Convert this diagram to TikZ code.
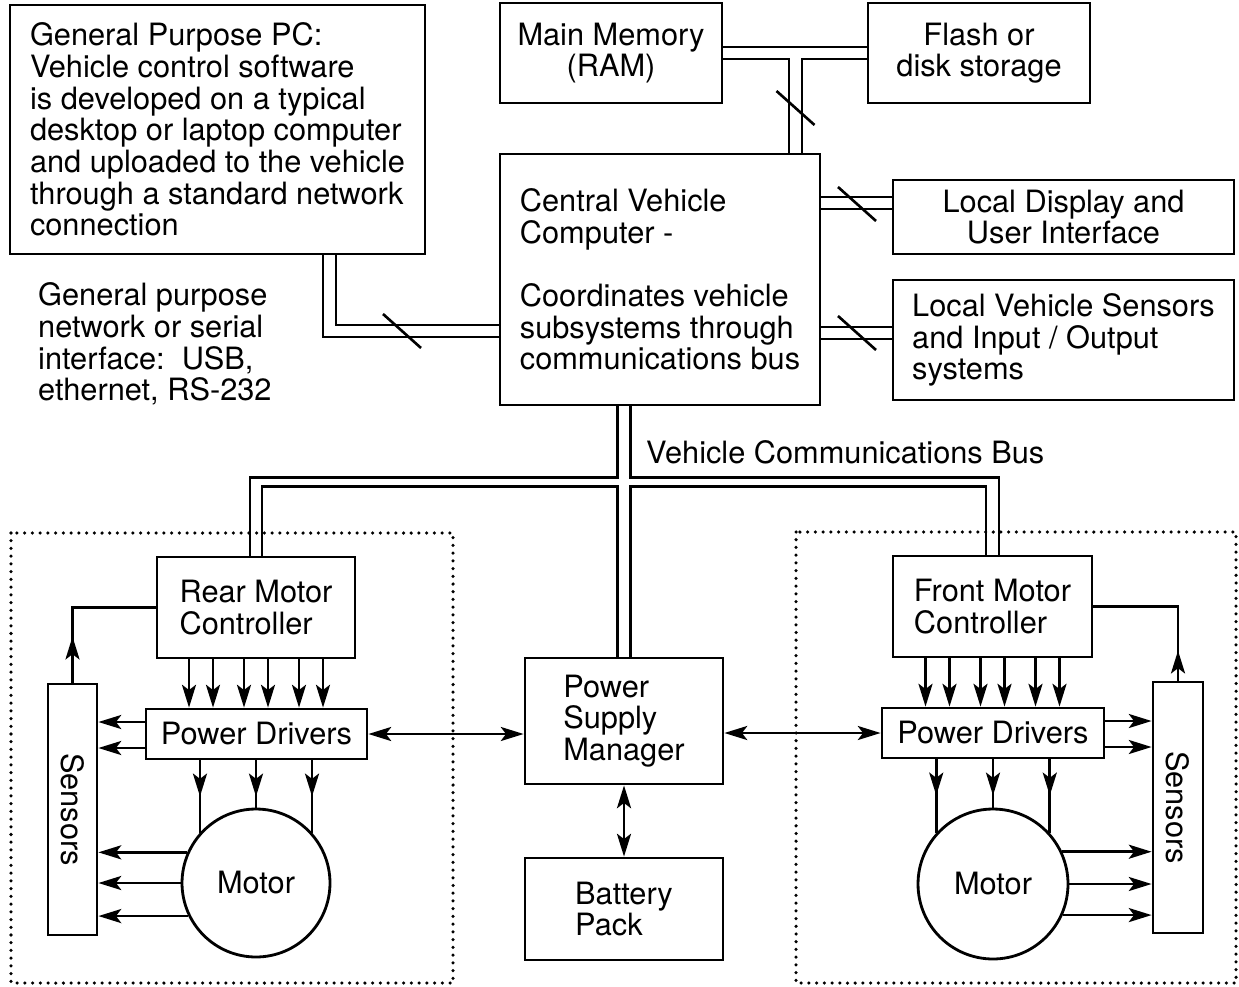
\documentclass[tikz,border=0pt]{standalone}
\usepackage{fontspec}
\usepackage{graphicx}
\setmainfont{TeX Gyre Heros}
\usepackage{tikz}
\usetikzlibrary{calc,positioning,arrows.meta}
\newcommand\diagfont{\fontsize{17.5pt}{18pt}\selectfont}
\newcommand\busslash[1]{\draw[wire] #1 ++(-19,-17) -- ++(38,34);}

\begin{document}
\begin{tikzpicture}[x=0.02cm,y=-0.02cm,
  box/.style={draw,line width=1.6pt,align=left,inner sep=0pt,font=\diagfont},
  wire/.style={line width=1.5pt},
  sig/.style={wire,-{Stealth[length=13pt,width=8pt,inset=3pt]}},
  dbl/.style={wire,{Stealth[length=13pt,width=8pt,inset=3pt]}-{Stealth[length=13pt,width=8pt,inset=3pt]}},
  zone/.style={line width=2pt,line cap=round,dash pattern=on 0pt off 4.4pt}]
\useasboundingbox (0,0) rectangle (1239,986);

\node[box,minimum width=8.3cm,minimum height=4.98cm] (pc) at (217.5,129.5) {General Purpose PC:\\Vehicle control software\\is developed on a typical\\desktop or laptop computer\\and uploaded to the vehicle\\through a standard network\\connection};
\node[box,minimum width=4.44cm,minimum height=2cm,align=center] (mem) at (611,53) {Main Memory\\(RAM)};
\node[box,minimum width=4.44cm,minimum height=2cm,align=center] (flash) at (979,53) {Flash or\\disk storage};
\node[box,minimum width=6.4cm,minimum height=5.02cm] (cvc) at (660,279.5) {Central Vehicle\\Computer -\\[18pt]Coordinates vehicle\\subsystems through\\communications bus};
\node[box,minimum width=6.82cm,minimum height=1.48cm,align=center] (disp) at (1063.5,217) {Local Display and\\User Interface};
\node[box,minimum width=6.82cm,minimum height=2.4cm] (lvs) at (1063.5,340) {Local Vehicle Sensors\\and Input / Output\\systems};
\node[anchor=west,align=left,font=\diagfont] (ifnote) at (32,344) {General purpose\\network or serial\\interface:\ \ USB,\\ethernet, RS-232};
\node[anchor=west,font=\diagfont] (buslbl) at (640,452) {Vehicle Communications Bus};

\draw[zone] (11,533) rectangle (453,983);
\draw[zone] (796,532) rectangle (1236,983);

\node[box,minimum width=3.96cm,minimum height=2.02cm] (rmc) at (256,607.5) {Rear Motor\\Controller};
\node[box,minimum width=3.98cm,minimum height=2.02cm] (fmc) at (992.5,606.5) {Front Motor\\Controller};
\node[box,minimum width=4.42cm,minimum height=1cm] (lpd) at (256.5,734) {Power Drivers};
\node[box,minimum width=4.44cm,minimum height=1cm] (fpd) at (993,733) {Power Drivers};
\node[box,minimum width=0.98cm,minimum height=5.02cm] (lsn) at (72.5,809.5) {\rotatebox{-90}{Sensors}};
\node[box,minimum width=1cm,minimum height=5.02cm] (rsn) at (1178,807.5) {\rotatebox{-90}{Sensors}};
\node[draw,circle,line width=1.6pt,minimum size=2.96cm,inner sep=0pt,font=\diagfont] (lmot) at (256,883) {Motor};
\node[draw,circle,line width=1.6pt,minimum size=3cm,inner sep=0pt,font=\diagfont] (rmot) at (993,884) {Motor};
\node[box,minimum width=3.96cm,minimum height=2.52cm] (psm) at (624,721) {Power\\Supply\\Manager};
\node[box,minimum width=3.96cm,minimum height=2.04cm] (bat) at (624,909) {Battery\\Pack};

\draw[wire] ($(mem.east)+(0,-6)$) -- ($(flash.west)+(0,-6)$);
\draw[wire] ($(mem.east)+(0,6)$) -| ($(cvc.north)+(129,0)$);
\draw[wire] ($(flash.west)+(0,6)$) -| ($(cvc.north)+(142,0)$);
\busslash{(795.5,108)}

\draw[wire] ($(pc.south)+(118.5,0)$) |- ($(cvc.west)+(0,45.5)$);
\draw[wire] ($(pc.south)+(105.5,0)$) |- ($(cvc.west)+(0,57.5)$);
\busslash{(402,331)}

\path ($(disp.west)+(0,-20)$) coordinate (d1) ($(disp.west)+(0,-8)$) coordinate (d2);
\path ($(lvs.west)+(0,-13)$) coordinate (s1) ($(lvs.west)+(0,-1)$) coordinate (s2);
\draw[wire] (d1) -- (d1 -| cvc.east);
\draw[wire] (d2) -- (d2 -| cvc.east);
\draw[wire] (s1) -- (s1 -| cvc.east);
\draw[wire] (s2) -- (s2 -| cvc.east);
\busslash{(857,204)}
\busslash{(857,333)}

\coordinate (busL) at ($(psm.north)+(-6.5,0)$);
\coordinate (busR) at ($(psm.north)+(6.5,0)$);
\draw[wire] (busL |- cvc.south) -- ++(0,71) -| ($(rmc.north)+(-6,0)$);
\draw[wire] ($(rmc.north)+(6,0)$) |- ($(busL)+(0,-170)$) -- (busL);
\draw[wire] (busR |- cvc.south) -- ++(0,71) -| ($(fmc.north)+(6.5,0)$);
\draw[wire] ($(fmc.north)+(-6.5,0)$) |- ($(busR)+(0,-170)$) -- (busR);

\foreach \dx in {-67,-43,-12,12,43,67}{
  \draw[sig] ($(rmc.south)+(\dx,0)$) coordinate (c) -- (c |- lpd.north);
  \draw[sig] ($(fmc.south)+(\dx,0)$) coordinate (c) -- (c |- fpd.north);
}
\foreach \a in {138,90,42}{
  \draw[wire] (lmot.\a) -- (lmot.\a |- lpd.south);
  \draw[sig] (lmot.\a |- lpd.south) -- ++(0,36);
  \draw[wire] (rmot.\a) -- (rmot.\a |- fpd.south);
  \draw[sig] (rmot.\a |- fpd.south) -- ++(0,36);
}
\foreach \a in {156,180,206}{
  \draw[sig] (lmot.\a) -- (lmot.\a -| lsn.east);
}
\foreach \a in {25,0,336}{
  \draw[sig] (rmot.\a) -- (rmot.\a -| rsn.west);
}
\foreach \dy in {-12,14}{
  \draw[sig] ($(lpd.west)+(0,\dy)$) coordinate (c) -- (c -| lsn.east);
  \draw[sig] ($(fpd.east)+(0,\dy)$) coordinate (c) -- (c -| rsn.west);
}

\draw[dbl] (lpd.east) -- (lpd.east -| psm.west);
\draw[dbl] (fpd.west) -- (fpd.west -| psm.east);
\draw[dbl] (psm.south) -- (bat.north);

\draw[wire] (lsn.north) |- (rmc.west);
\draw[sig] (lsn.north) -- ++(0,-46);
\draw[wire] (rsn.north) |- (fmc.east);
\draw[sig] (rsn.north) -- ++(0,-30);
\end{tikzpicture}
\end{document}
